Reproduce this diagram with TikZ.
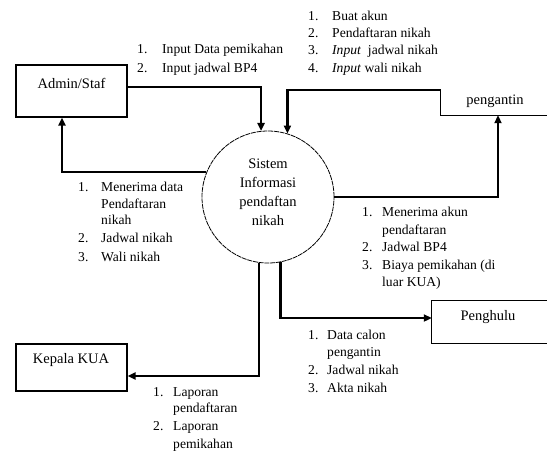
\documentclass[tikz,border=0pt]{standalone}
\usepackage{fontspec}
\setmainfont{Liberation Serif}
\usetikzlibrary{arrows.meta}
\begin{document}
\begin{tikzpicture}[x=1pt,y=-1pt,
  flow/.style={line width=2.4pt, -{Triangle[length=8pt,width=7pt]}},
  boxline/.style={line width=1.2pt},
  ent/.style={rectangle, inner sep=0pt},
  lbl/.style={inner sep=0pt, anchor=base west, font=\fontsize{13.6}{16}\selectfont},
  blbl/.style={inner sep=0pt, font=\fontsize{14.5}{17}\selectfont},
]
\useasboundingbox (0,0) rectangle (547,451);
\coordinate (R) at (547,0);

% entities
\node[ent, draw, boxline, minimum width=111pt, minimum height=52pt] (admin) at (71.5,91) {};
\node[blbl] (adminT) at (71.5,83) {Admin/Staf};

\node[ent, draw, boxline, minimum width=111pt, minimum height=47pt] (kua) at (71.5,367.5) {};
\node[blbl] (kuaT) at (71,360) {Kepala KUA};

\node[ent, minimum width=114pt, minimum height=25pt] (pen) at (498,102.5) {};
\draw[boxline] (pen.north west) -- (pen.south west) -- (pen.south west -| R);
\node[blbl] (penT) at (495,101) {pengantin};

\node[ent, minimum width=112pt, minimum height=42pt] (ph) at (488,322) {};
\draw[boxline] (ph.north west -| R) -- (ph.north west) -- (ph.south west) -- (ph.south west -| R);
\node[blbl] (phT) at (488,317) {Penghulu};

% process
\node[circle, draw, line width=0.8pt, dash pattern=on 5pt off 0.8pt, minimum size=132pt, inner sep=0pt] (sys) at (268,197) {};
\node[blbl, align=center, font=\fontsize{14.5}{19}\selectfont] (sysT) at (268,192) {Sistem\\Informasi\\pendaftan\\nikah};

% flows
\draw[flow] ([yshift=4pt]admin.east) -| (sys.96);
\draw[flow] (sys.158) -| ([xshift=-9.5pt]admin.south);
\draw[flow] (pen.north west) -| (sys.73);
\draw[flow] (sys.east) -| (pen.south);
\draw[flow] (sys.262) |- ([yshift=-8.5pt]kua.east);
\draw[flow] (sys.281) |- ([yshift=4pt]ph.west);

% list A
\node[lbl] (a1n) at (137,53) {1.};
\node[lbl] (a1) at (162,53) {Input Data pemikahan};
\node[lbl] (a2n) at (137,72) {2.};
\node[lbl] (a2) at (162,72) {Input jadwal BP4};

% list B
\node[lbl] (b1n) at (308,20) {1.};
\node[lbl] (b1) at (332,20) {Buat akun};
\node[lbl] (b2n) at (308,37) {2.};
\node[lbl] (b2) at (332,37) {Pendaftaran nikah};
\node[lbl] (b3n) at (308,54) {3.};
\node[lbl] (b3) at (332,54) {\emph{Input} \ jadwal nikah};
\node[lbl] (b4n) at (308,72) {4.};
\node[lbl] (b4) at (332,72) {\emph{Input} wali nikah};

% list C
\node[lbl] (c1n) at (78,191) {1.};
\node[lbl] (c1) at (101,191) {Menerima data};
\node[lbl] (c1b) at (101,208) {Pendaftaran};
\node[lbl] (c1c) at (101,224) {nikah};
\node[lbl] (c2n) at (78,242) {2.};
\node[lbl] (c2) at (101,242) {Jadwal nikah};
\node[lbl] (c3n) at (78,261) {3.};
\node[lbl] (c3) at (101,261) {Wali nikah};

% list D
\node[lbl] (d1n) at (362,216) {1.};
\node[lbl] (d1) at (382,216) {Menerima akun};
\node[lbl] (d1b) at (382,234) {pendaftaran};
\node[lbl] (d2n) at (362,251) {2.};
\node[lbl] (d2) at (382,251) {Jadwal BP4};
\node[lbl] (d3n) at (362,269) {3.};
\node[lbl] (d3) at (382,269) {Biaya pemikahan (di};
\node[lbl] (d3b) at (382,286) {luar KUA)};

% list E
\node[lbl] (e1n) at (308,339) {1.};
\node[lbl] (e1) at (327,339) {Data calon};
\node[lbl] (e1b) at (327,356) {pengantin};
\node[lbl] (e2n) at (308,374) {2.};
\node[lbl] (e2) at (327,374) {Jadwal nikah};
\node[lbl] (e3n) at (308,392) {3.};
\node[lbl] (e3) at (327,392) {Akta nikah};

% list F
\node[lbl] (f1n) at (153,396) {1.};
\node[lbl] (f1) at (173,396) {Laporan};
\node[lbl] (f1b) at (173,412) {pendaftaran};
\node[lbl] (f2n) at (153,430) {2.};
\node[lbl] (f2) at (173,430) {Laporan};
\node[lbl] (f2b) at (173,448) {pemikahan};
\end{tikzpicture}
\end{document}
